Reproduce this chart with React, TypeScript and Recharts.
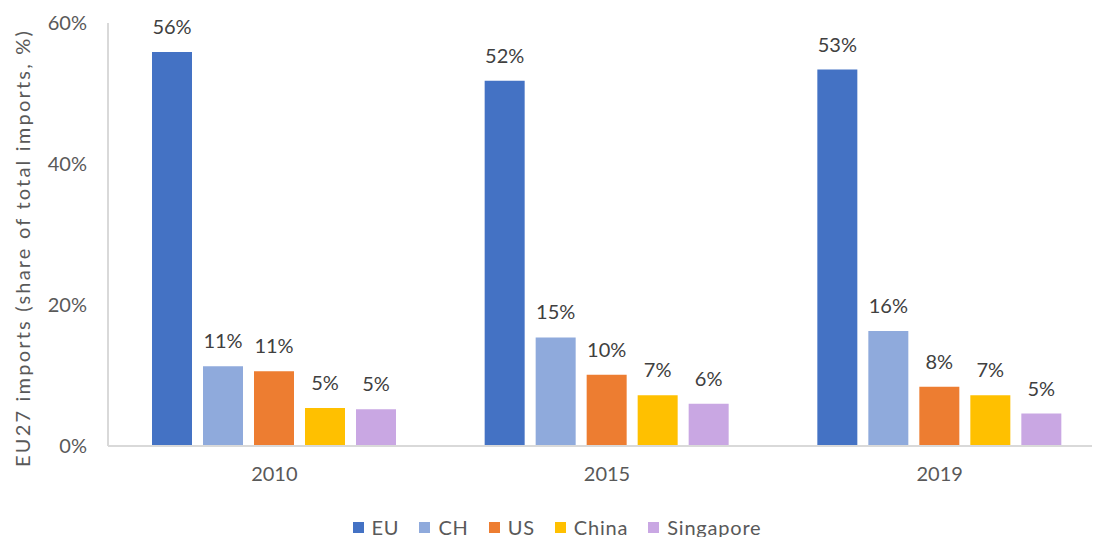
import React from 'react';
import { BarChart, Bar, XAxis, YAxis, LabelList, Legend } from 'recharts';

const years = ['2010', '2015', '2019'];
const euValues = [55.9, 51.8, 53.4];
const chValues = [11.3, 15.4, 16.3];
const usValues = [10.6, 10.1, 8.4];
const chinaValues = [5.4, 7.2, 7.2];
const singaporeValues = [5.2, 6.0, 4.6];
const yTicks = [0, 20, 40, 60];

const seriesNames = ['EU', 'CH', 'US', 'China', 'Singapore'];
const seriesColors = ['#4472C4', '#8FAADC', '#ED7D31', '#FFC000', '#C9A7E3'];
const seriesValues = [euValues, chValues, usValues, chinaValues, singaporeValues];

const data = years.map((y, i) => {
  const row: Record<string, string | number> = { year: y };
  seriesNames.forEach((n, k) => {
    row[n] = seriesValues[k][i];
  });
  return row;
});

const FONT = 'Lato, "Noto Sans", sans-serif';

const renderLegend = () => (
  <div style={{ display: 'flex', justifyContent: 'center', fontFamily: FONT, fontSize: 20, color: '#595959', letterSpacing: 0.8, lineHeight: '24px', paddingLeft: 8 }}>
    {seriesNames.map((n, k) => (
      <div key={n} style={{ display: 'flex', alignItems: 'center', marginRight: k < seriesNames.length - 1 ? 20 : 0 }}>
        <span style={{ display: 'inline-block', width: 11, height: 11, background: seriesColors[k], marginRight: 8 }} />
        <span>{n}</span>
      </div>
    ))}
  </div>
);

const renderYLabel = () => (
  <text
    x={22}
    y={248}
    transform="rotate(-90, 22, 248)"
    textAnchor="middle"
    dominantBaseline="central"
    fill="#595959"
    fontSize={20}
    fontFamily={FONT}
    letterSpacing={2.2}
  >
    EU27 imports (share of total imports, %)
  </text>
);

export default function App() {
  return (
    <div style={{ margin: -8, width: 1100, height: 545, background: '#fff' }}>
      <BarChart
        width={1100}
        height={545}
        data={data}
        margin={{ top: 23, right: -6, bottom: 6, left: 0 }}
        barGap={11}
        barSize={40}
      >
        <XAxis
          dataKey="year"
          axisLine={{ stroke: '#D9D9D9', strokeWidth: 2 }}
          tickLine={false}
          tick={{ fill: '#595959', fontSize: 20, fontFamily: FONT }}
          tickMargin={15}
          height={69}
        />
        <YAxis
          domain={[0, 60]}
          ticks={yTicks}
          tickFormatter={(v: number) => `${v}%`}
          axisLine={{ stroke: '#D9D9D9', strokeWidth: 2 }}
          tickLine={false}
          tickSize={0}
          tickMargin={21}
          width={108}
          tick={{ fill: '#595959', fontSize: 20, fontFamily: FONT }}
          label={{ content: renderYLabel }}
        />
        <Legend verticalAlign="bottom" content={renderLegend} />
        {seriesNames.map((n, k) => (
          <Bar key={n} dataKey={n} fill={seriesColors[k]} isAnimationActive={false}>
            <LabelList
              dataKey={n}
              position="top"
              offset={18}
              formatter={(v: number) => `${Math.round(v)}%`}
              style={{ fill: '#404040', fontSize: 20, fontFamily: FONT }}
            />
          </Bar>
        ))}
      </BarChart>
    </div>
  );
}
